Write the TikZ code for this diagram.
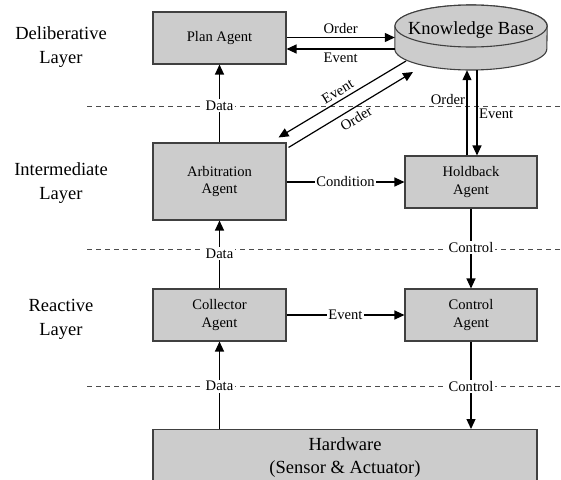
\documentclass[tikz,border=0pt]{standalone}
\usepackage{fontspec}
\setmainfont{Liberation Serif}
\usetikzlibrary{arrows.meta}

\newcommand{\fsmall}{\fontsize{14.6}{17.3}\selectfont}
\newcommand{\fbig}{\fontsize{18.5}{24}\selectfont}

\tikzset{
  agent/.style={draw=black!75, line width=1.1pt, fill=black!20, align=center, font=\fsmall,
    minimum width=133pt, minimum height=52pt, inner sep=0pt},
  arr/.style={line width=1.2pt, -{Triangle[length=10pt,width=9pt]}},
  lbl/.style={font=\fsmall, inner sep=1.5pt},
  onl/.style={lbl, fill=white},
  layer/.style={font=\fbig, align=center},
  sep/.style={black!70, line width=0.8pt, dash pattern=on 5pt off 4pt}
}

\begin{document}
\begin{tikzpicture}[x=1pt, y=-1pt]
  \useasboundingbox (0,0) rectangle (561,479);
  % Layer separators
  \foreach \y in {106,249,386} \draw[sep] (87,\y) -- (561,\y);
  % Layer names
  \node[layer] (lDel) at (61,47.5) {Deliberative\\Layer};
  \node[layer] (lInt) at (61,183.5) {Intermediate\\Layer};
  \node[layer] (lRea) at (61,319) {Reactive\\Layer};
  % Agents
  \node[agent] (plan) at (219.5,38) {Plan Agent};
  \node[agent, minimum height=77pt] (arb) at (219.5,181.5) {Arbitration\\Agent};
  \node[agent, minimum width=132pt] (hold) at (471,182) {Holdback\\Agent};
  \node[agent] (coll) at (219.5,315) {Collector\\Agent};
  \node[agent, minimum width=132pt] (ctrl) at (471,315) {Control\\Agent};
  \node[agent, anchor=north, minimum width=384pt, minimum height=0pt, inner ysep=8pt,
    font=\fontsize{18.5}{23}\selectfont] (hw) at (345,429)
    {Hardware\\(Sensor \& Actuator)\rule[-14pt]{0pt}{0pt}};
  % Knowledge base (cylinder)
  \node[minimum width=152pt, minimum height=65pt, inner sep=0pt] (kb) at (471,37.5) {};
  \draw[draw=black!75, line width=1.1pt, fill=black!20] (kb.west |- 0,26) -- (kb.west |- 0,49)
    arc[start angle=180, end angle=360, x radius=76pt, y radius=21pt] -- (kb.east |- 0,26)
    arc[start angle=0, end angle=180, x radius=76pt, y radius=21pt] -- cycle;
  \draw[draw=black!75, line width=1.1pt, fill=black!20] (471,26) ellipse[x radius=76pt, y radius=21pt];
  \node[font=\fbig] (kbtext) at (471,30.5) {Knowledge Base};
  \coordinate (kbEv) at ([yshift=-11.5pt]kb.west);
  \coordinate (hUp) at ([xshift=-4pt]hold.north);
  \coordinate (hDn) at ([xshift=6pt]hold.north);
  % Plan agent <-> knowledge base
  \draw[arr] (plan.east |- kb.west) -- node[lbl, above=2pt]{Order} (kb.west);
  \draw[arr] (kbEv) -- node[lbl, below=2pt]{Event} (kbEv -| plan.east);
  % Arbitration agent <-> knowledge base
  \draw[arr] ([shift={(-65,23.5)}]kb.center) -- node[lbl, sloped, above=2pt]{Event} ([shift={(-8,-5)}]arb.north east);
  \draw[arr] ([shift={(2,5)}]arb.north east) -- node[lbl, sloped, below=3pt]{Order} ([shift={(-58,34.5)}]kb.center);
  % Holdback agent <-> knowledge base
  \draw[arr] (hUp) -- node[lbl, left, pos=0.66]{Order} (hUp |- kb.south);
  \draw[arr] (hDn |- kb.south) -- node[lbl, right, pos=0.51]{Event} (hDn);
  % Flows between layers
  \draw[arr] (arb.north) -- node[onl, pos=0.47]{Data} (plan.south);
  \draw[arr] (coll.north) -- node[onl, pos=0.51]{Data} (arb.south);
  \draw[arr] (coll.south |- hw.north) -- node[onl, pos=0.49]{Data} (coll.south);
  \draw[arr] (hold.south) -- node[onl, pos=0.49]{Control} (ctrl.north);
  \draw[arr] (ctrl.south) -- node[onl, pos=0.51]{Control} (ctrl.south |- hw.north);
  % Flows within layers
  \draw[arr] (arb.east |- hold.west) -- node[onl]{Condition} (hold.west);
  \draw[arr] (coll.east) -- node[onl]{Event} (ctrl.west);
\end{tikzpicture}
\end{document}
